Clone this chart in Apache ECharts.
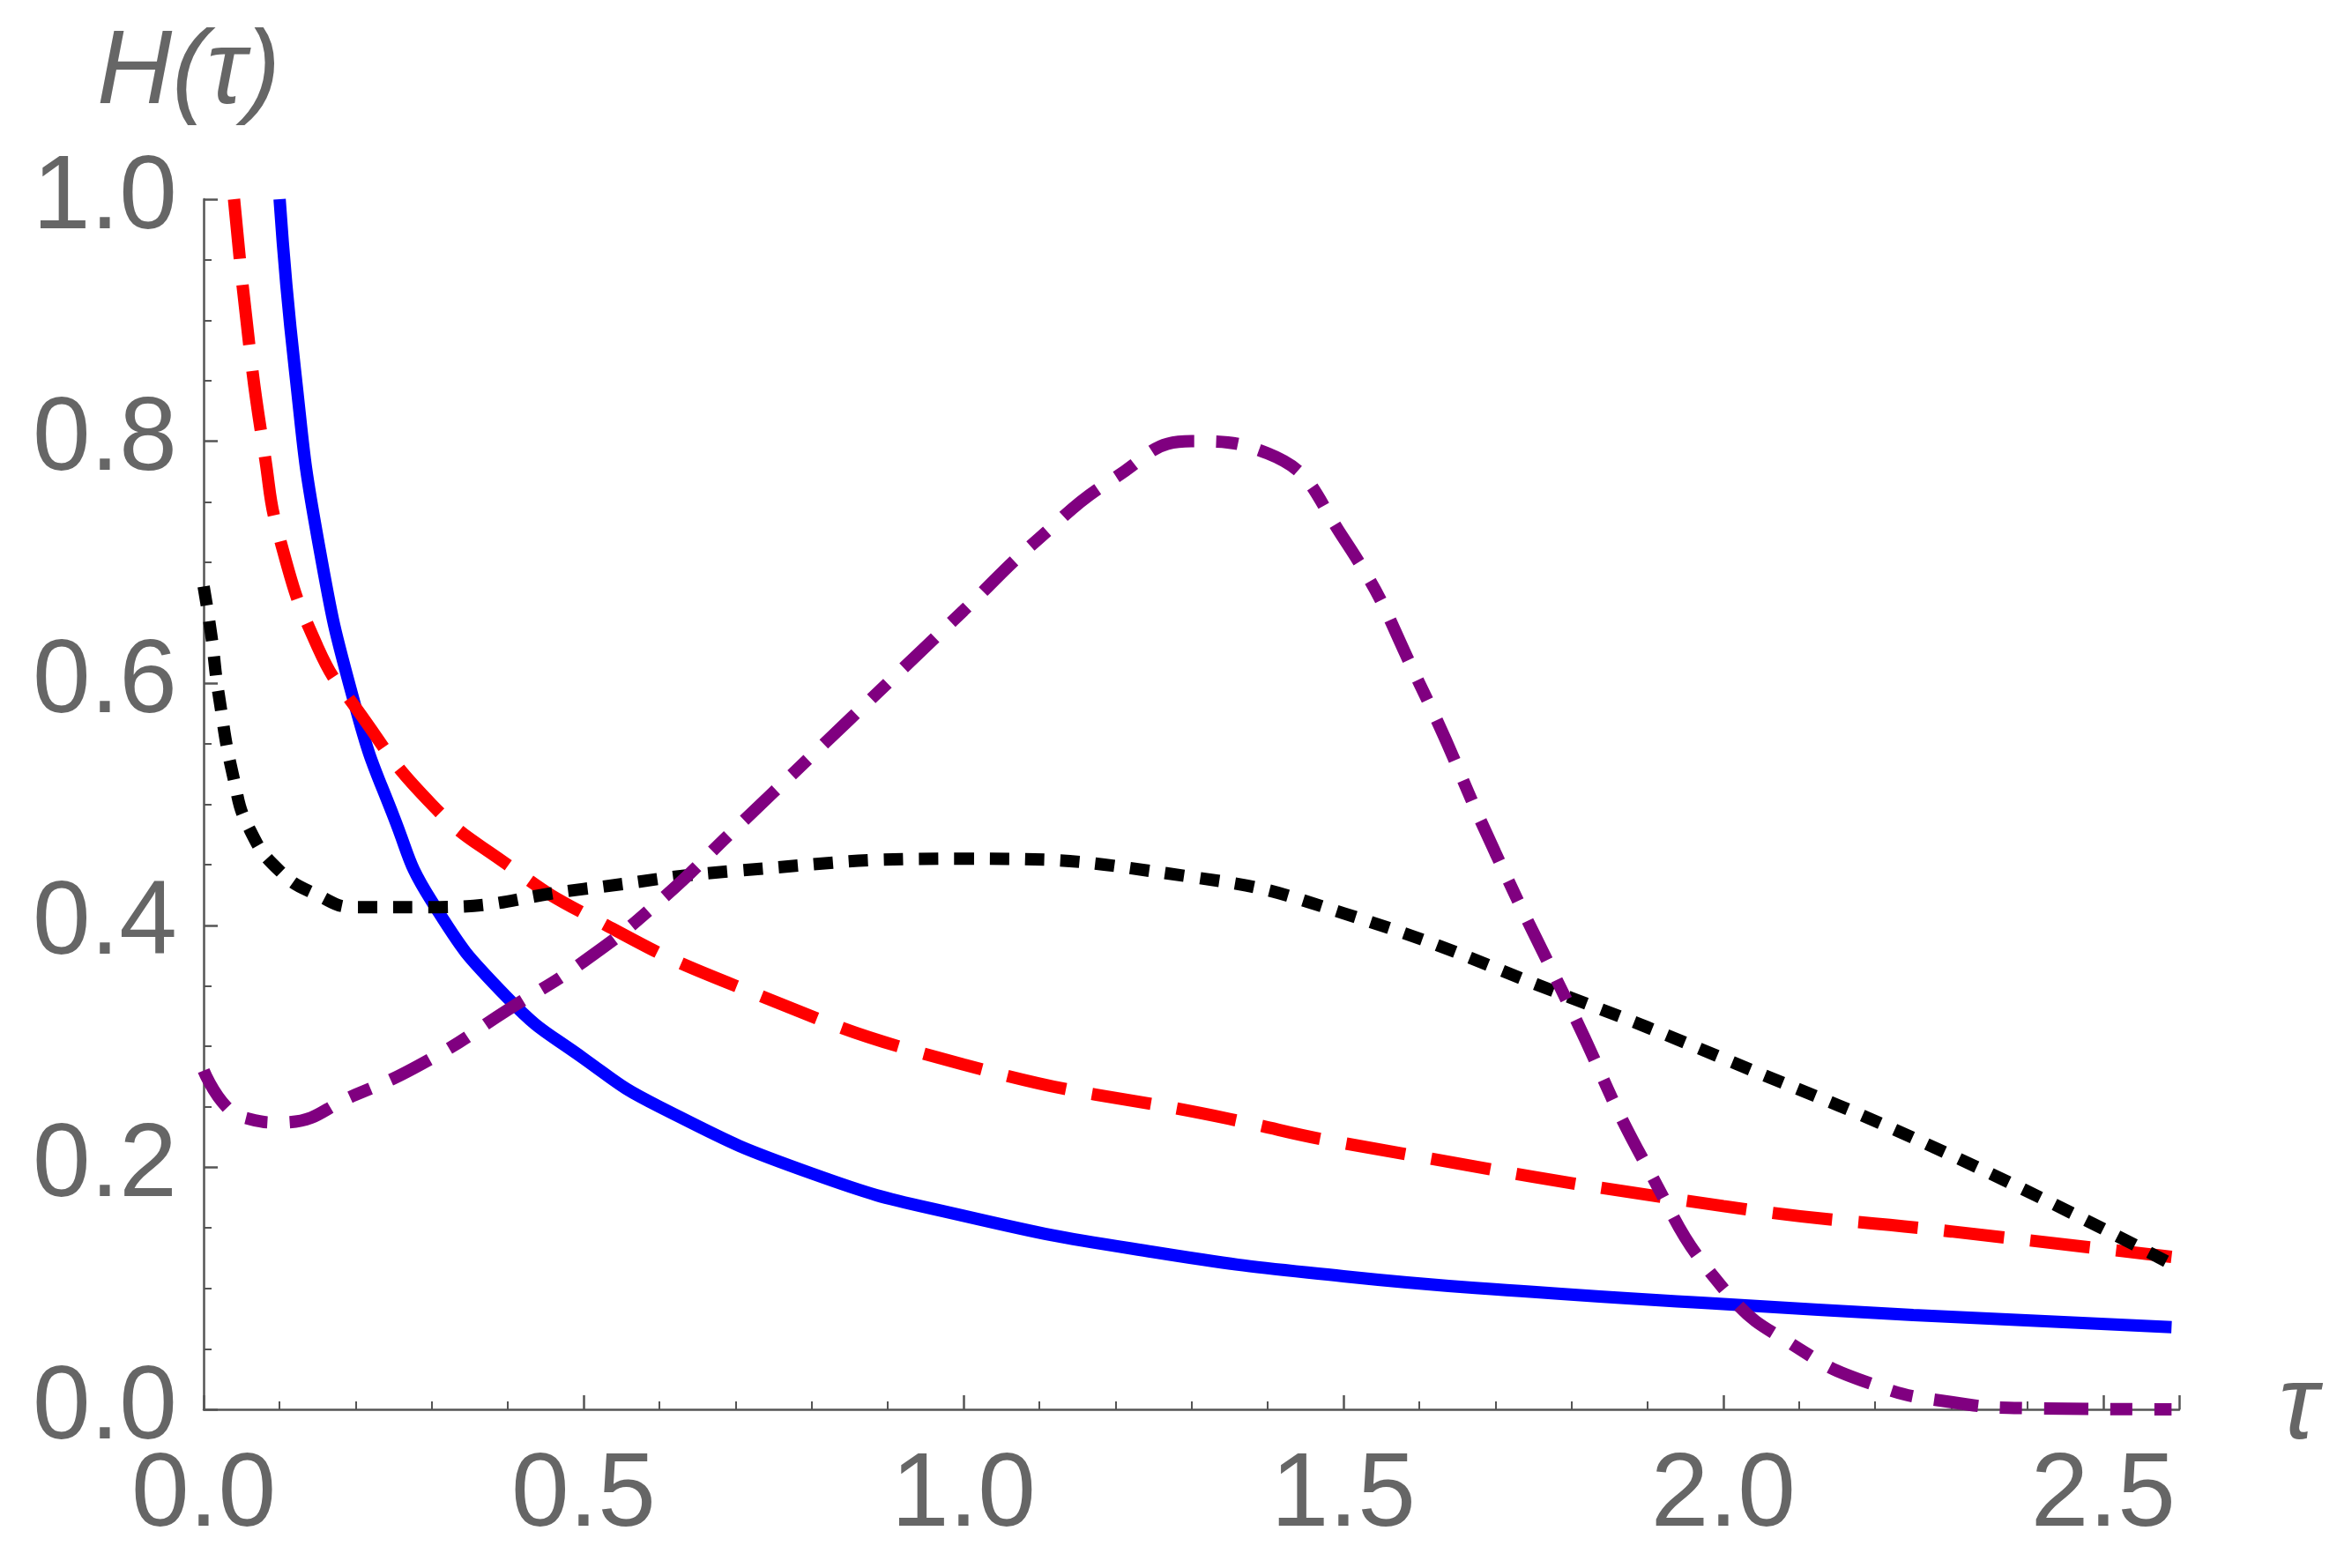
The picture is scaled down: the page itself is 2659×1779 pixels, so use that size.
<!DOCTYPE html>
<html><head><meta charset="utf-8">
<script src="https://cdn.jsdelivr.net/npm/echarts@6/dist/echarts.min.js"></script>
<style>html,body{margin:0;background:#fff}#c{width:2659px;height:1779px}</style>
</head><body><div id="c"></div>
<script>
// ── values ──
const blueT = [0.1, 0.12, 0.15, 0.2, 0.25, 0.3, 0.4, 0.5, 0.6, 0.8, 1.0, 1.25, 1.5, 1.75, 2.0, 2.25, 2.59];
const blueH = [1.0, 0.86, 0.72, 0.58, 0.49, 0.42, 0.34, 0.29, 0.25, 0.195, 0.16, 0.13, 0.11, 0.097, 0.087, 0.078, 0.068];
const redT = [0.04, 0.06, 0.08, 0.1, 0.15, 0.2, 0.3, 0.4, 0.5, 0.7, 1.0, 1.35, 1.5, 2.0, 2.3, 2.59];
const redH = [1.0, 0.88, 0.79, 0.72, 0.63, 0.58, 0.5, 0.45, 0.41, 0.35, 0.285, 0.24, 0.22, 0.168, 0.147, 0.126];
const blackT = [0.0, 0.01, 0.02, 0.04, 0.06, 0.1, 0.15, 0.2, 0.3, 0.5, 0.7, 1.0, 1.3, 1.5, 1.8, 2.0, 2.3, 2.59];
const blackH = [0.68, 0.64, 0.59, 0.52, 0.48, 0.445, 0.425, 0.415, 0.415, 0.43, 0.445, 0.455, 0.44, 0.41, 0.34, 0.29, 0.21, 0.12];
const purpleT = [0.0, 0.03, 0.06, 0.1, 0.2, 0.3, 0.4, 0.5, 0.6, 0.7, 0.8, 0.9, 1.0, 1.1, 1.2, 1.3, 1.4, 1.5, 1.6, 1.7, 1.8, 1.9, 2.0, 2.1, 2.2, 2.3, 2.4, 2.59];
const purpleH = [0.28, 0.25, 0.24, 0.237, 0.26, 0.29, 0.33, 0.37, 0.42, 0.48, 0.54, 0.6, 0.66, 0.72, 0.77, 0.8, 0.79, 0.72, 0.6, 0.46, 0.33, 0.2, 0.1, 0.05, 0.02, 0.006, 0.001, 0.0];

const zip = (t, h) => t.map((v, i) => [v, h[i]]);
const lbl = { color: "#666", fontSize: 118, fontFamily: "Liberation Sans" };
const axLine = { lineStyle: { color: "#555", width: 2.5 } };

function line(t, h, color, dash) {
  return {
    type: "line", data: zip(t, h), smooth: true, symbol: "none", silent: true,
    lineStyle: { color, width: 14, type: dash, cap: "butt" },
  };
}

const chart = echarts.init(document.getElementById("c"));
chart.setOption({
  animation: false,
  grid: { left: 231, right: 187, top: 226, bottom: 180 },
  xAxis: {
    type: "value", min: 0, max: 2.6, interval: 0.5,
    axisLine: axLine, splitLine: { show: false },
    axisTick: { inside: true, length: 16, lineStyle: { color: "#555", width: 2.5 } },
    minorTick: { show: true, splitNumber: 5, length: 9, lineStyle: { color: "#555", width: 2 } },
    axisLabel: { ...lbl, margin: 40, showMaxLabel: false, formatter: (v) => v.toFixed(1) },
  },
  yAxis: {
    type: "value", min: 0, max: 1, interval: 0.2,
    axisLine: { show: true, ...axLine }, splitLine: { show: false },
    axisTick: { inside: true, length: 16, lineStyle: { color: "#555", width: 2.5 } },
    minorTick: { show: true, splitNumber: 4, length: 9, lineStyle: { color: "#555", width: 2 } },
    axisLabel: { ...lbl, margin: 30, formatter: (v) => v.toFixed(1) },
  },
  graphic: [
    { type: "text", left: 110, top: 25, style: { text: "H(τ)", font: "italic 118px 'Liberation Sans'", fill: "#666" } },
    { type: "text", left: 2585, top: 1540, style: { text: "τ", font: "italic 118px 'Liberation Sans'", fill: "#666" } },
  ],
  series: [
    line(blueT, blueH, "#0000ff", "solid"),
    line(redT, redH, "#ff0000", [68, 30]),
    line(blackT, blackH, "#000000", [22, 18]),
    line(purpleT, purpleH, "#800080", [50, 25, 25, 25]),
  ],
});
</script></body></html>
